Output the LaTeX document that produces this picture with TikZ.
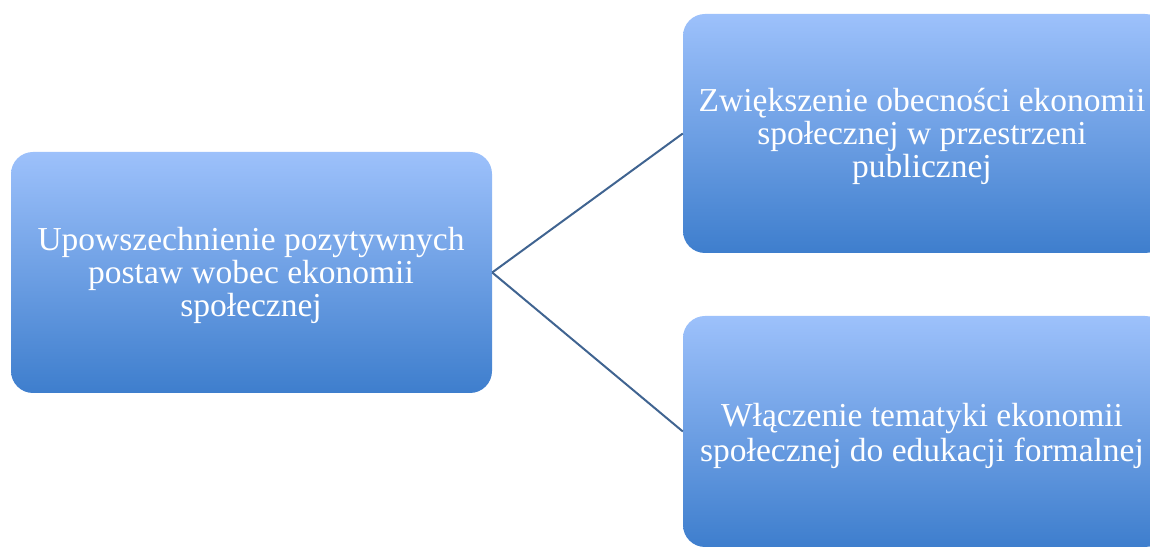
\documentclass[tikz,border=0pt]{standalone}
\usepackage{fontspec}
\setmainfont{Liberation Serif}
\definecolor{boxtop}{RGB}{157,193,251}
\definecolor{boxbot}{RGB}{62,126,205}
\definecolor{linkcol}{RGB}{64,100,145}
\tikzset{
  gbox/.style={rectangle, rounded corners=22pt, top color=boxtop, bottom color=boxbot,
    draw=none, inner sep=0pt},
  boxtext/.style={text=white, align=center, inner sep=0pt,
    font=\fontsize{33.5}{33}\selectfont},
  link/.style={draw=linkcol, line width=2pt}
}
\begin{document}
\begin{tikzpicture}[x=1pt,y=1pt]
\useasboundingbox (0,0) rectangle (1150,548);
\clip (0,0) rectangle (1150,548);
\node[gbox, minimum width=481pt, minimum height=241pt] (root) at (251.5,275.5) {};
\node[gbox, minimum width=484pt, minimum height=239pt] (top) at (925,414.5) {};
\node[gbox, minimum width=484pt, minimum height=231pt] (bot) at (925,116.5) {};
\node[boxtext] (roottext) at (251,273)
  {Upowszechnienie pozytywnych\\postaw wobec ekonomii\\społecznej};
\node[boxtext] (toptext) at (922,412)
  {Zwiększenie obecności ekonomii\\społecznej w przestrzeni\\publicznej};
\node[boxtext, font=\fontsize{33.5}{35}\selectfont] (bottext) at (922,112)
  {Włączenie tematyki ekonomii\\społecznej do edukacji formalnej};
\draw[link] (root.east) -- (top.west);
\draw[link] (root.east) -- (bot.west);
\end{tikzpicture}
\end{document}
